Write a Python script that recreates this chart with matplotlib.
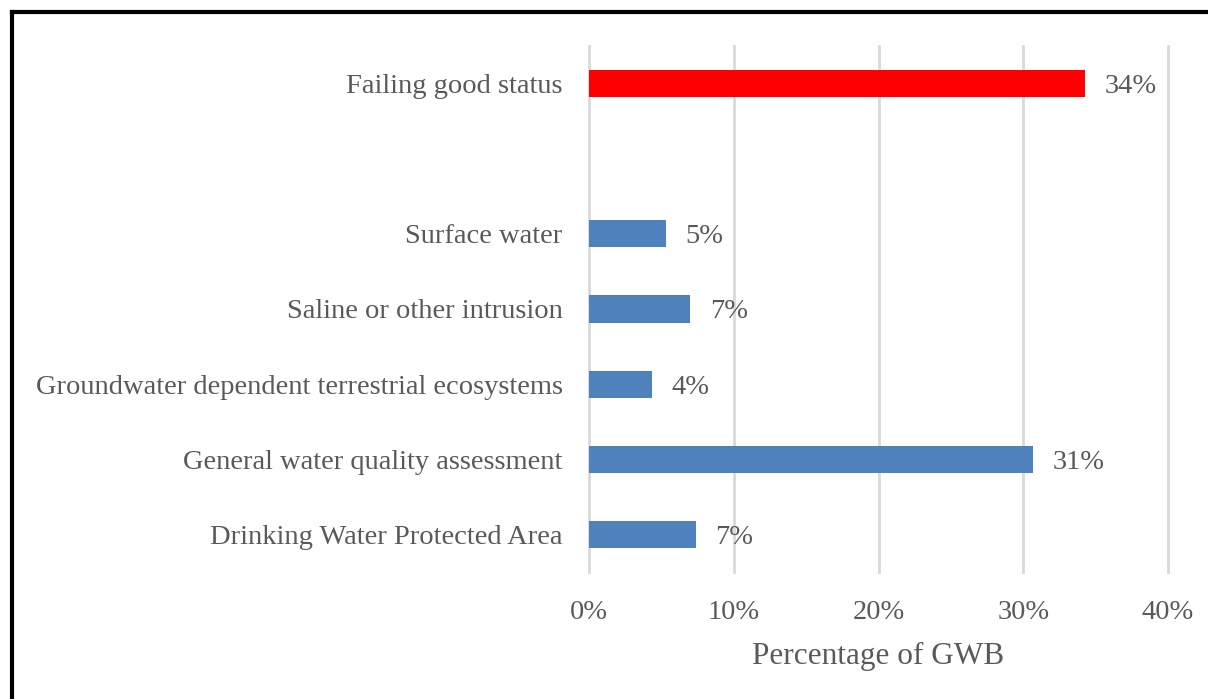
import numpy as np
import matplotlib.pyplot as plt
from matplotlib.ticker import PercentFormatter

plt.rcParams.update({
    "font.family": "Liberation Serif",
    "font.size": 20.5,
    "text.color": "#595959",
    "xtick.color": "#595959",
    "ytick.color": "#595959",
})

# top to bottom, blank entry keeps the gap under the first bar
categories = [
    "Failing good status",
    "",
    "Surface water",
    "Saline or other intrusion",
    "Groundwater dependent terrestrial ecosystems",
    "General water quality assessment",
    "Drinking Water Protected Area",
]
values = [34.3, np.nan, 5.3, 7.0, 4.35, 30.7, 7.4]
labels = ["34%", "", "5%", "7%", "4%", "31%", "7%"]
bar_colors = ["#FF0000", "none", "#4F81BD", "#4F81BD", "#4F81BD", "#4F81BD", "#4F81BD"]


fig = plt.figure(figsize=(12.08, 6.99), dpi=100)
ax = fig.add_axes([589 / 1208, 1 - 572 / 699, (1168 - 589) / 1208, (572 - 46) / 699])

y_pos = np.arange(len(categories))
ax.barh(y_pos, values, height=0.36, color=bar_colors)

for y, v, lab in zip(y_pos, values, labels):
    if lab:
        ax.annotate(lab, (v, y), xytext=(14, 0), textcoords="offset points",
                    va="center_baseline", ha="left", fontsize=20.5)

ax.set_yticks(y_pos)
ax.set_yticklabels(categories)
ax.set_ylim(len(categories) - 0.5, -0.5)

ax.set_xlim(0, 40)
ax.set_xticks(range(0, 41, 10))
ax.xaxis.set_major_formatter(PercentFormatter(decimals=0))
ax.set_xlabel("Percentage of GWB", fontsize=22.5, color="#595959", labelpad=12)

ax.grid(axis="x", color="#D9D9D9", linewidth=2)
for line in ax.get_xgridlines():
    line.set_clip_on(False)
ax.set_axisbelow(True)
for s in ax.spines.values():
    s.set_visible(False)
ax.tick_params(axis="both", length=0)
ax.tick_params(axis="y", pad=19)
ax.tick_params(axis="x", pad=20.5)

# frame on top and left edge
fig.add_artist(plt.Line2D([12 / 1208, 1], [1 - 12 / 699, 1 - 12 / 699], color="black", linewidth=3))
fig.add_artist(plt.Line2D([12 / 1208, 12 / 1208], [0, 1 - 12 / 699], color="black", linewidth=3))

plt.savefig("out.png", dpi=100)
plt.close()
